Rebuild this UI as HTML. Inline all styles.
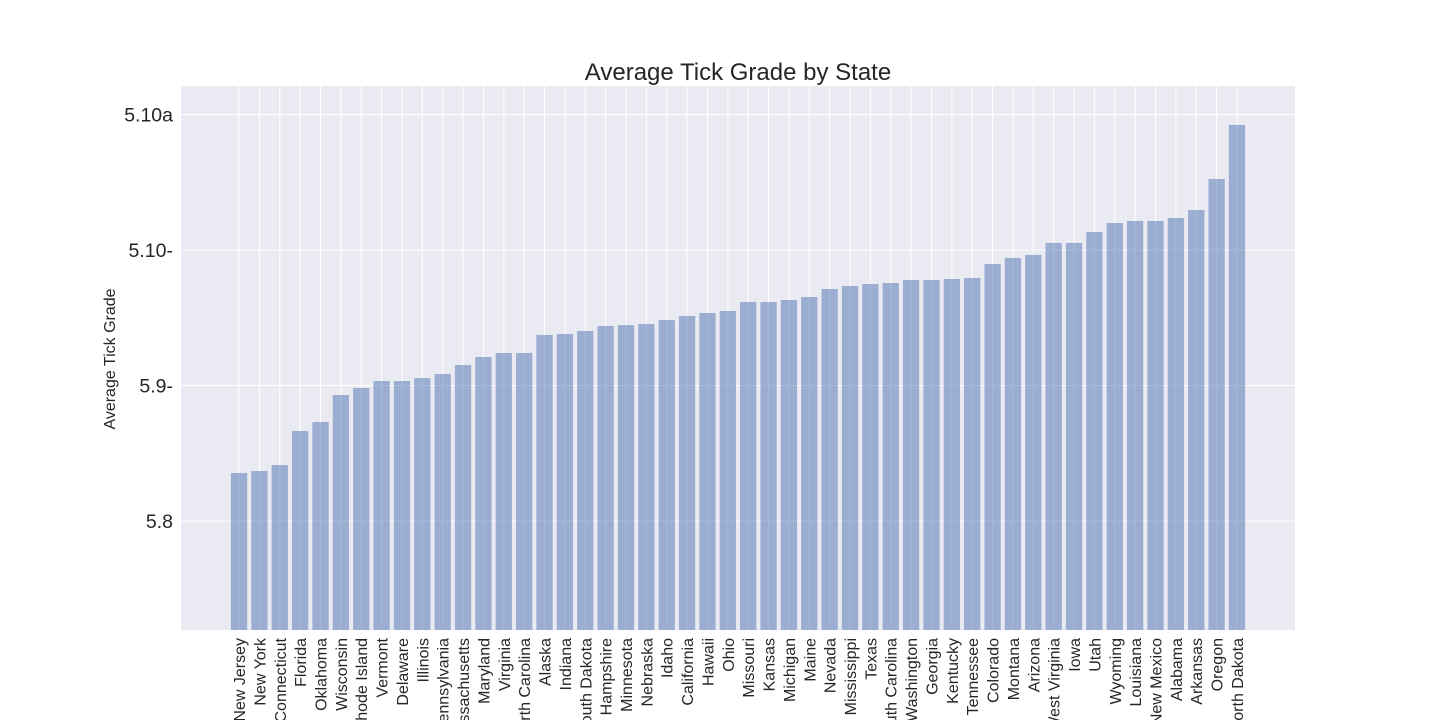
<!DOCTYPE html>
<html><head><meta charset="utf-8"><style>
html,body{margin:0;padding:0;background:#fff;overflow:hidden;}
svg{display:block;font-family:"Liberation Sans","DejaVu Sans",sans-serif;}
</style></head><body>
<svg id="chart" width="1440" height="720" viewBox="0 0 1440 720">
<rect x="181" y="86" width="1114" height="544" fill="#eaeaf2"/>
<g id="grid"></g><g id="bars"></g><g id="xlabels"></g><g id="ylabels"></g>
<text x="738" y="80" text-anchor="middle" font-size="24" fill="#262626">Average Tick Grade by State</text>
<text transform="translate(115,359) rotate(-90)" text-anchor="middle" font-size="16" fill="#262626">Average Tick Grade</text>
</svg>
<script>
const states = ["New Jersey","New York","Connecticut","Florida","Oklahoma","Wisconsin","Rhode Island","Vermont","Delaware","Illinois","Pennsylvania","Massachusetts","Maryland","Virginia","North Carolina","Alaska","Indiana","South Dakota","New Hampshire","Minnesota","Nebraska","Idaho","California","Hawaii","Ohio","Missouri","Kansas","Michigan","Maine","Nevada","Mississippi","Texas","South Carolina","Washington","Georgia","Kentucky","Tennessee","Colorado","Montana","Arizona","West Virginia","Iowa","Utah","Wyoming","Louisiana","New Mexico","Alabama","Arkansas","Oregon","North Dakota"];
const grades = [0.354,0.369,0.413,0.664,0.731,0.930,0.982,1.033,1.033,1.055,1.085,1.151,1.210,1.240,1.240,1.373,1.380,1.402,1.439,1.446,1.454,1.483,1.513,1.535,1.550,1.616,1.616,1.631,1.653,1.712,1.734,1.749,1.756,1.779,1.779,1.786,1.793,1.897,1.941,1.963,2.052,2.052,2.133,2.199,2.214,2.214,2.236,2.295,2.524,2.923];
const yTickValues = [0,1,2,3];
const yTickLabels = ["5.8","5.9-","5.10-","5.10a"];

const NS="http://www.w3.org/2000/svg";
const L=181,R=1295,T=86,B=630;
const xMin=-2.85,xMax=states.length-1+2.85;
const yMin=-0.804,yMax=3.21;
const xs=i=>L+(i-xMin)/(xMax-xMin)*(R-L);
const ys=v=>B-(v-yMin)/(yMax-yMin)*(B-T);
const step=(R-L)/(xMax-xMin), bw=step*0.8;
function mk(tag,attrs,parent){const e=document.createElementNS(NS,tag);for(const k in attrs)e.setAttribute(k,attrs[k]);parent.appendChild(e);return e;}
const grid=document.getElementById('grid'),bars=document.getElementById('bars'),xl=document.getElementById('xlabels'),yl=document.getElementById('ylabels');
yTickValues.forEach((v,i)=>{
  const g=mk('line',{x1:L,x2:R,y1:ys(v),y2:ys(v),stroke:'#fff','stroke-width':1},grid);
  
  
  const t=mk('text',{x:173,y:ys(v)+7,'text-anchor':'end','font-size':19.5,fill:'#262626'},yl);
  t.textContent=yTickLabels[i];
  
  
});
states.forEach((s,i)=>{
  const cx=xs(i);
  const g=mk('line',{x1:cx,x2:cx,y1:T,y2:B,stroke:'#fff','stroke-width':1},grid);
  
  
  const top=ys(grades[i]);
  const b=mk('rect',{x:cx-bw/2,y:top,width:bw,height:B-top,fill:'rgb(76,114,176)','fill-opacity':0.5},bars);
  
  
  const t=mk('text',{transform:`translate(${cx+6},638) rotate(-90)`,'text-anchor':'end','font-size':16,fill:'#262626'},xl);
  t.textContent=s;
  
  
});
</script>
</body></html>
